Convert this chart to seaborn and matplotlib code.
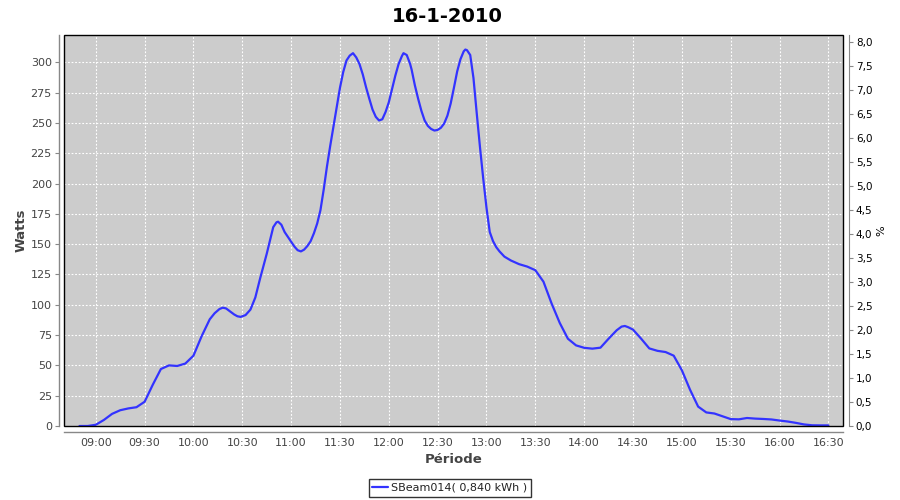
import matplotlib
matplotlib.use("Agg")
import matplotlib.pyplot as plt
import matplotlib.dates as mdates
from matplotlib.ticker import MultipleLocator, FuncFormatter
from matplotlib.patches import Rectangle
import pandas as pd
import seaborn as sns

title = "16-1-2010"
series_name = "SBeam014( 0,840 kWh )"
x_label = "Période"
y_label = "Watts"
y2_label = "%"

times = ["08:50", "08:55", "09:00", "09:05", "09:10", "09:15", "09:20", "09:25",
         "09:30", "09:35", "09:40", "09:45", "09:50", "09:55", "10:00", "10:05",
         "10:10", "10:13", "10:16", "10:18", "10:20", "10:22", "10:25", "10:27",
         "10:29", "10:32", "10:35", "10:38", "10:41", "10:43", "10:45", "10:47",
         "10:49", "10:51", "10:52", "10:54", "10:56", "10:58", "11:00", "11:02",
         "11:04", "11:06", "11:08", "11:10", "11:12", "11:14", "11:16", "11:18",
         "11:20", "11:22", "11:24", "11:26", "11:28", "11:30", "11:32", "11:34",
         "11:36", "11:38", "11:40", "11:42", "11:44", "11:46", "11:48", "11:50",
         "11:52", "11:54", "11:56", "11:58", "12:00", "12:02", "12:04", "12:06",
         "12:08", "12:09", "12:11", "12:13", "12:14", "12:16", "12:18", "12:20",
         "12:22", "12:24", "12:26", "12:28", "12:30", "12:32", "12:34", "12:36",
         "12:38", "12:40", "12:42", "12:44", "12:46", "12:47", "12:48", "12:50",
         "12:52", "12:54", "12:56", "12:58", "13:00", "13:02", "13:04", "13:06",
         "13:08", "13:11", "13:15", "13:20", "13:25", "13:30", "13:35", "13:40",
         "13:45", "13:50", "13:55", "14:00", "14:05", "14:10", "14:15", "14:20",
         "14:23", "14:25", "14:27", "14:30", "14:35", "14:40", "14:45", "14:50",
         "14:55", "15:00", "15:05", "15:10", "15:15", "15:20", "15:25", "15:30",
         "15:35", "15:40", "15:45", "15:50", "15:55", "16:00", "16:05", "16:10",
         "16:15", "16:20", "16:25", "16:30"]
watts = [0, 0, 1, 5, 10, 13, 14.5, 15.5,
         20, 34, 47, 50, 49.5, 51.5, 58, 74,
         88, 93, 96.5, 97.6, 97, 95, 92, 90.5,
         90, 91.5, 96, 106, 122, 132, 142, 153,
         164, 168, 168.5, 166, 160, 156, 152, 148,
         145, 144, 145.5, 148.5, 152.5, 159, 167, 178,
         195, 214, 231, 247, 263.4, 279, 292, 301.5,
         305.5, 307.5, 304, 298.5, 290, 279.5, 270, 261,
         255, 252, 253, 259, 267, 278, 289, 298.5,
         305, 307.5, 306, 299, 294, 281, 270, 260,
         252, 247.5, 245, 243.7, 244.2, 246, 249.5, 256,
         266, 279, 292.5, 302.5, 309, 310.5, 310, 306,
         287, 258, 230, 204, 180, 160, 152.5, 147.5,
         144, 139.7, 136.5, 133.5, 131.5, 128.5, 119, 101,
         85, 72, 66.5, 64.5, 63.8, 64.6, 72, 79,
         82, 82.5, 81.5, 79.5, 72, 64, 62, 61,
         58, 46, 30, 16, 11.2, 10.3, 8, 5.7,
         5.5, 6.6, 6.1, 5.8, 5.4, 4.5, 3.7, 2.6,
         1.3, 0.6, 0.5, 0.5]

y2_ticks = [0.0, 0.5, 1.0, 1.5, 2.0, 2.5, 3.0, 3.5, 4.0, 4.5, 5.0, 5.5, 6.0, 6.5, 7.0, 7.5, 8.0]

sns.set_style("white")
plt.rcParams['font.family'] = ['DejaVu Sans']

df = pd.DataFrame({
    x_label: pd.to_datetime(["2010-01-16 " + t for t in times]),
    y_label: watts,
})

W, H = 900, 500
fig = plt.figure(figsize=(9, 5), dpi=100)
fig.patch.set_facecolor("white")
L, R, T, B = 64.3, 843.3, 35, 426
ax = fig.add_axes([L / W, 1 - B / H, (R - L) / W, (B - T) / H])
ax.set_facecolor("#CCCCCC")

sns.lineplot(data=df, x=x_label, y=y_label, ax=ax, color="#3333FF",
             linewidth=1.6, label=series_name, legend=False)

ax.set_xlim(pd.Timestamp("2010-01-16 08:40:40"), pd.Timestamp("2010-01-16 16:39:10"))
ax.set_ylim(0, 322.5)
ax.yaxis.set_major_locator(MultipleLocator(25))
ax.xaxis.set_major_locator(mdates.MinuteLocator(byminute=[0, 30]))
ax.xaxis.set_major_formatter(mdates.DateFormatter("%H:%M"))

ax.grid(True, color="white", linestyle=(0, (1.6, 1.6)), linewidth=0.8)
ax.set_axisbelow(True)

for s in ["top", "right"]:
    ax.spines[s].set_visible(False)
for s in ["left", "bottom"]:
    ax.spines[s].set_position(("outward", 4))
    ax.spines[s].set_color("#888888")
    ax.spines[s].set_linewidth(1.0)
ax.tick_params(axis="both", direction="out", length=3, width=0.8, color="#888888",
               labelsize=8, labelcolor="#444444", pad=2)

ax.set_xlabel(x_label, fontsize=9.5, fontweight="bold", color="#444444", labelpad=3)
ax.set_ylabel(y_label, fontsize=9.5, fontweight="bold", color="#444444", labelpad=2)

# plot border
ax.add_patch(Rectangle((0, 0), 1, 1, transform=ax.transAxes, fill=False,
                       edgecolor="black", linewidth=1.0, zorder=5, clip_on=False))

ax2 = ax.twinx()
ax2.set_ylim(0, 8.139)
ax2.set_yticks(y2_ticks)
ax2.yaxis.set_major_formatter(FuncFormatter(lambda v, p: f"{v:.1f}".replace(".", ",")))
for s in ["top", "left", "bottom"]:
    ax2.spines[s].set_visible(False)
ax2.spines["right"].set_position(("outward", 4))
ax2.spines["right"].set_color("#888888")
ax2.tick_params(axis="y", direction="out", length=3, width=0.8, color="#888888",
                labelsize=7.5, labelcolor="black", pad=2)
ax2.set_ylabel(y2_label, fontsize=8, color="black", labelpad=3)
ax2.grid(False)

fig.suptitle(title, x=0.497, y=0.985, fontsize=14, fontweight="bold", va="top",
             color="black")

handles, labels = ax.get_legend_handles_labels()
leg = fig.legend(handles, labels, loc="lower center", bbox_to_anchor=(0.5, 0.0),
                 frameon=True, fancybox=False, edgecolor="black", fontsize=8,
                 handlelength=1.4, handletextpad=0.3, borderpad=0.35,
                 borderaxespad=0.3)
leg.get_frame().set_linewidth(1.0)
for t in leg.get_texts():
    t.set_color("#222222")

fig.savefig("out.png", dpi=100, facecolor="white")
